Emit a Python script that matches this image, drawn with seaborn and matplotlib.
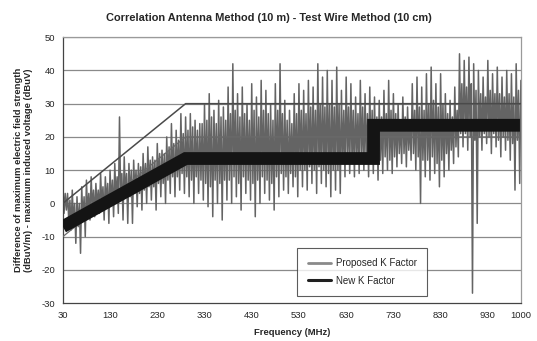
import numpy as np
import pandas as pd
import matplotlib
matplotlib.use("Agg")
import matplotlib.pyplot as plt
import seaborn as sns
from matplotlib.lines import Line2D

bin_freq = list(range(30, 1001, 10))
peak_hi = [6, 3, 4, 2, 5, 7, 8, 6, 9, 8,
           10, 12, 26, 14, 12, 13, 12, 15, 17, 14,
           18, 16, 20, 24, 22, 27, 26, 27, 25, 24,
           30, 33, 28, 31, 29, 35, 42, 33, 35, 30,
           36, 32, 37, 34, 30, 36, 42, 31, 28, 33,
           36, 34, 37, 35, 42, 38, 40, 37, 41, 34,
           38, 36, 32, 37, 33, 35, 32, 31, 34, 37,
           33, 30, 32, 29, 36, 38, 35, 39, 41, 36,
           39, 33, 31, 35, 45, 43, 44, 42, 40, 38,
           43, 39, 41, 38, 40, 39, 42, 37]
peak_lo = [-2, -8, -12, -15, -10, -5, -4, -3, -5, -6,
           -4, -3, -5, -6, -6, -1, -2, 0, 1, -2,
           2, 0, 3, 2, 4, 3, 2, 0, 3, 1,
           -1, -4, 0, -5, 1, 0, 2, -2, 3, 1,
           -4, 0, 3, 1, -2, 2, 4, 3, 5, 2,
           5, 4, 6, 3, 6, 5, 2, 4, 3, 8,
           9, 8, 9, 10, 8, 9, 7, 9, 10, 9,
           11, 12, 11, 13, 10, 0, 8, 7, 9, 5,
           8, 10, 12, 14, 17, 16, -27, -6, 16, 18,
           15, 17, 14, 16, 13, 4, 6, 12]
core_lo = [-3, -5, -6, -7, -5, -3, -2, -1, -1, 0,
           0, 1, 1, 2, 2, 3, 3, 4, 5, 5,
           6, 6, 7, 8, 8, 9, 8, 7, 8, 7,
           6, 5, 7, 6, 7, 7, 8, 6, 8, 7,
           6, 7, 8, 7, 6, 8, 9, 8, 9, 8,
           10, 10, 11, 10, 11, 10, 9, 10, 10, 12,
           13, 12, 13, 13, 12, 13, 12, 13, 14, 13,
           14, 15, 15, 16, 15, 14, 13, 13, 14, 12,
           13, 15, 16, 17, 21, 21, 20, 19, 20, 21,
           20, 21, 19, 20, 19, 18, 19, 20]
core_hi = [3, 1, 0, 0, 2, 3, 4, 4, 5, 6,
           7, 8, 9, 9, 10, 10, 11, 12, 13, 13,
           15, 15, 17, 18, 19, 21, 22, 23, 22, 24,
           25, 26, 24, 26, 25, 27, 28, 26, 27, 25,
           28, 26, 28, 27, 25, 28, 27, 25, 24, 27,
           28, 27, 29, 28, 30, 29, 30, 29, 30, 28,
           29, 28, 27, 29, 27, 28, 26, 26, 27, 28,
           27, 25, 26, 25, 28, 29, 28, 30, 31, 29,
           30, 27, 26, 28, 36, 35, 36, 34, 33, 32,
           34, 33, 33, 32, 33, 32, 34, 31]

# Proposed K Factor (灰线) 与 New K Factor (黑色粗线)
prop_freq = [30, 290, 1000]
prop_upper = [0, 30, 30]
prop_lower = [-10, 20, 20]
new_freq = [30, 290, 688, 688, 998]
new_k = [-7, 13.5, 13.5, 23.5, 23.5]

x_ticks = [30, 130, 230, 330, 430, 530, 630, 730, 830, 930, 1000]
y_ticks = [-30, -20, -10, 0, 10, 20, 30, 40, 50]

# 每个区间内按 峰值 -> 主体下界 -> 主体上界 -> 谷值 顺序连线
rows = []
for f, a, b, c, d in zip(bin_freq, peak_hi, core_lo, core_hi, peak_lo):
    for k, v in enumerate([a, b, c, d]):
        rows.append((f + 2.5 * k, v))
noise = pd.DataFrame(rows, columns=["freq", "diff"])

sns.set_style("white")
plt.rcParams["font.family"] = ["Liberation Sans", "DejaVu Sans"]
plt.rcParams["axes.unicode_minus"] = False

fig, ax = plt.subplots(figsize=(5.37, 3.41), dpi=100)
fig.subplots_adjust(left=0.117, right=0.970, top=0.891, bottom=0.111)

for yv in y_ticks[1:]:
    ax.axhline(yv, color="#8a8a8a", lw=0.9, zorder=1)

sns.lineplot(data=noise, x="freq", y="diff", ax=ax, color="#646464",
             linewidth=1.1, estimator=None, sort=False, zorder=2)
sns.lineplot(x=prop_freq, y=prop_upper, ax=ax, color="#4a4a4a",
             linewidth=1.1, estimator=None, zorder=3)
sns.lineplot(x=prop_freq, y=prop_lower, ax=ax, color="#6a6a6a",
             linewidth=0.9, estimator=None, zorder=3)
ax.plot(new_freq, new_k, color="#141414", lw=9.2,
        solid_capstyle="butt", solid_joinstyle="miter", zorder=4)

ax.set_xlim(30, 1000)
ax.set_ylim(-30, 50)
ax.set_xticks(x_ticks)
ax.set_yticks(y_ticks)
ax.tick_params(axis="both", labelsize=6.8, length=3, width=0.8,
               direction="inout", color="#444444", pad=4)

for side in ["left", "bottom"]:
    ax.spines[side].set_color("#444444")
    ax.spines[side].set_linewidth(0.9)
for side in ["right", "top"]:
    ax.spines[side].set_color("#9a9a9a")
    ax.spines[side].set_linewidth(0.9)

fig.text(0.5, 0.947, "Correlation Antenna Method (10 m) - Test Wire Method (10 cm)",
         ha="center", va="center", fontsize=7.9, fontweight="bold")
ax.set_xlabel("Frequency (MHz)", fontsize=6.8, fontweight="bold", labelpad=6)
ax.set_ylabel("Difference of maximum electric field strength\n"
              "(dBuV/m) - maximum induced voltage (dBuV)",
              fontsize=6.8, fontweight="bold", labelpad=6)

# 图例
handles = [Line2D([], [], color="#8a8a8a", lw=2),
           Line2D([], [], color="#202020", lw=2.2)]
leg = ax.legend(handles, ["Proposed K Factor", "New K Factor"],
                loc="lower left", bbox_to_anchor=(0.511, 0.026),
                fontsize=7, frameon=True, fancybox=False,
                handlelength=2.4, borderpad=1.1, labelspacing=0.75,
                borderaxespad=0, handletextpad=0.5)
leg.get_frame().set_edgecolor("#333333")
leg.get_frame().set_linewidth(0.8)
leg.set_zorder(6)
# 框宽度对齐原图
fig.canvas.draw()
bb = leg.get_frame().get_bbox()
leg.get_frame().set_width(bb.width * 1.12)

fig.savefig("out.png", dpi=100, facecolor="white")
